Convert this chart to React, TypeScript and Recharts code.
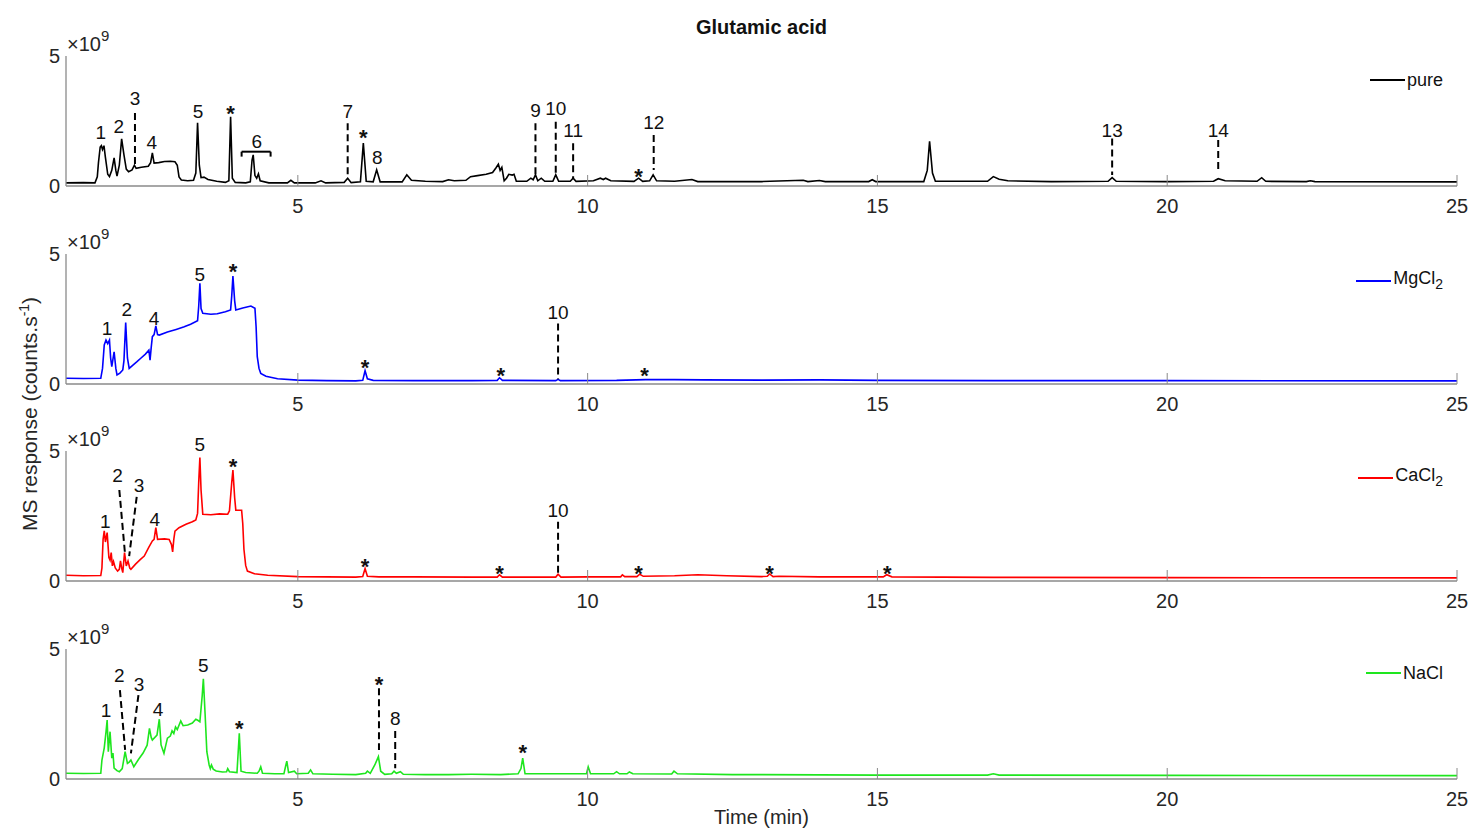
import React from 'react';
import { ComposedChart, Line, XAxis, YAxis, ReferenceLine, ReferenceDot, Legend } from 'recharts';

const FONT = '"Liberation Sans", Arial, Helvetica, sans-serif';
const AXIS = '#8a8a8a';
const INK = '#262626';

const timeTicks = [5, 10, 15, 20, 25];
const responseTicks = [0, 5];

// chromatograms: [time (min), MS response (x1e9 counts/s)]
const pure: [number, number][] = [
  [1.0, 0.12], [1.3, 0.13], [1.5, 0.12], [1.54, 0.35], [1.56, 0.9], [1.59, 1.5], [1.61, 1.55], [1.63, 1.4],
  [1.655, 1.55], [1.68, 1.1], [1.72, 0.45], [1.75, 0.36], [1.79, 0.6], [1.83, 1.08], [1.86, 0.6], [1.88, 0.38],
  [1.92, 0.8], [1.96, 1.81], [2.0, 1.2], [2.04, 0.65], [2.08, 0.55], [2.14, 0.62], [2.18, 0.8], [2.21, 0.68],
  [2.3, 0.72], [2.42, 0.76], [2.46, 0.9], [2.49, 1.27], [2.52, 0.88], [2.6, 0.9], [2.7, 0.94], [2.8, 0.95],
  [2.88, 0.93], [2.92, 0.8], [2.95, 0.35], [2.99, 0.23], [3.1, 0.2], [3.2, 0.22], [3.24, 0.5], [3.27, 2.43],
  [3.3, 0.8], [3.33, 0.32], [3.38, 0.34], [3.45, 0.25], [3.6, 0.18], [3.75, 0.14], [3.81, 0.2], [3.84, 2.66],
  [3.87, 0.3], [3.92, 0.14], [4.1, 0.12], [4.18, 0.16], [4.21, 1.0], [4.23, 1.2], [4.26, 0.4], [4.29, 0.3],
  [4.32, 0.47], [4.35, 0.2], [4.5, 0.12], [4.82, 0.12], [4.88, 0.22], [4.94, 0.12], [5.3, 0.12], [5.4, 0.2],
  [5.48, 0.12], [5.8, 0.14], [5.86, 0.3], [5.92, 0.13], [6.08, 0.16], [6.13, 1.65], [6.18, 0.18], [6.3, 0.16],
  [6.36, 0.62], [6.42, 0.16], [6.8, 0.16], [6.88, 0.43], [6.96, 0.22], [7.2, 0.18], [7.5, 0.17], [7.6, 0.24],
  [7.7, 0.2], [7.9, 0.22], [7.98, 0.36], [8.1, 0.4], [8.25, 0.45], [8.36, 0.52], [8.42, 0.7], [8.46, 0.84],
  [8.49, 0.6], [8.52, 0.72], [8.56, 0.2], [8.6, 0.3], [8.64, 0.45], [8.7, 0.42], [8.73, 0.45], [8.77, 0.18],
  [8.95, 0.18], [9.02, 0.3], [9.06, 0.24], [9.1, 0.43], [9.14, 0.2], [9.2, 0.3], [9.26, 0.18], [9.4, 0.18],
  [9.45, 0.43], [9.5, 0.18], [9.7, 0.18], [9.75, 0.3], [9.8, 0.18], [10.1, 0.2], [10.22, 0.3], [10.27, 0.25],
  [10.31, 0.3], [10.4, 0.2], [10.8, 0.18], [10.88, 0.3], [10.95, 0.18], [11.07, 0.2], [11.13, 0.43], [11.19, 0.2],
  [11.5, 0.18], [11.8, 0.25], [11.9, 0.17], [12.5, 0.17], [13.0, 0.17], [13.72, 0.22], [13.8, 0.17], [14.0, 0.21],
  [14.1, 0.17], [14.85, 0.17], [14.91, 0.24], [14.97, 0.17], [15.8, 0.17], [15.86, 0.6], [15.9, 1.72], [15.95, 0.5],
  [16.0, 0.18], [16.9, 0.18], [17.0, 0.36], [17.1, 0.26], [17.25, 0.2], [18.0, 0.17], [18.98, 0.18], [19.05, 0.32],
  [19.12, 0.18], [20.0, 0.17], [20.8, 0.18], [20.88, 0.28], [21.0, 0.2], [21.55, 0.18], [21.63, 0.32], [21.7, 0.18],
  [22.4, 0.17], [22.47, 0.2], [22.55, 0.17], [25.0, 0.16],
];

const mgcl2: [number, number][] = [
  [1.0, 0.22], [1.3, 0.21], [1.6, 0.22], [1.63, 0.6], [1.66, 1.5], [1.69, 1.69], [1.72, 1.55], [1.75, 1.69],
  [1.77, 1.0], [1.79, 0.67], [1.83, 1.24], [1.86, 0.6], [1.88, 0.35], [1.93, 0.42], [1.98, 0.54], [2.0, 0.9],
  [2.03, 2.36], [2.06, 1.0], [2.09, 0.6], [2.15, 0.72], [2.22, 0.85], [2.29, 0.99], [2.37, 1.15], [2.43, 1.3],
  [2.45, 0.92], [2.47, 1.4], [2.49, 1.82], [2.52, 1.9], [2.55, 2.23], [2.58, 1.9], [2.61, 1.88], [2.75, 2.0],
  [2.9, 2.1], [3.04, 2.2], [3.15, 2.3], [3.27, 2.43], [3.29, 3.0], [3.31, 3.87], [3.33, 2.9], [3.36, 2.72],
  [3.5, 2.68], [3.61, 2.7], [3.75, 2.78], [3.84, 2.85], [3.86, 3.4], [3.88, 4.15], [3.91, 3.2], [3.93, 2.85],
  [4.05, 2.92], [4.19, 3.0], [4.26, 2.91], [4.28, 2.2], [4.3, 1.05], [4.33, 0.6], [4.36, 0.41], [4.45, 0.3],
  [4.65, 0.2], [5.0, 0.15], [5.5, 0.13], [6.0, 0.12], [6.12, 0.14], [6.16, 0.51], [6.2, 0.2], [6.3, 0.14],
  [7.0, 0.13], [8.0, 0.13], [8.44, 0.14], [8.48, 0.24], [8.53, 0.14], [9.45, 0.13], [9.49, 0.18], [9.53, 0.13],
  [10.5, 0.14], [11.0, 0.17], [11.5, 0.17], [12.0, 0.16], [13.0, 0.15], [14.0, 0.16], [15.0, 0.14], [17.0, 0.13],
  [20.0, 0.13], [25.0, 0.12],
];

const cacl2: [number, number][] = [
  [1.0, 0.22], [1.3, 0.2], [1.6, 0.21], [1.62, 0.5], [1.64, 1.6], [1.66, 1.93], [1.68, 1.5], [1.71, 1.86],
  [1.74, 0.9], [1.76, 0.8], [1.78, 1.09], [1.8, 0.58], [1.82, 0.75], [1.85, 0.5], [1.89, 0.38], [1.92, 0.45],
  [1.94, 0.77], [1.96, 0.5], [1.98, 0.32], [2.01, 1.09], [2.04, 0.58], [2.07, 0.77], [2.1, 0.5], [2.12, 0.45],
  [2.2, 0.65], [2.28, 0.82], [2.35, 0.96], [2.43, 1.3], [2.49, 1.54], [2.52, 1.6], [2.55, 2.05], [2.58, 1.6],
  [2.7, 1.62], [2.78, 1.6], [2.82, 1.4], [2.84, 1.12], [2.86, 1.6], [2.88, 1.92], [2.95, 2.05], [3.07, 2.18],
  [3.18, 2.28], [3.24, 2.35], [3.27, 2.6], [3.29, 3.8], [3.31, 4.75], [3.33, 3.5], [3.36, 2.57], [3.5, 2.55],
  [3.65, 2.58], [3.79, 2.57], [3.82, 2.7], [3.86, 3.8], [3.88, 4.27], [3.91, 3.2], [3.93, 2.72], [4.03, 2.72],
  [4.05, 2.2], [4.07, 1.22], [4.1, 0.6], [4.13, 0.38], [4.25, 0.28], [4.48, 0.22], [5.0, 0.17], [5.5, 0.16],
  [6.0, 0.15], [6.12, 0.17], [6.16, 0.48], [6.2, 0.18], [6.4, 0.16], [7.0, 0.16], [8.0, 0.15], [8.44, 0.15],
  [8.48, 0.24], [8.53, 0.15], [9.45, 0.15], [9.49, 0.26], [9.54, 0.15], [10.0, 0.16], [10.57, 0.16], [10.6, 0.24],
  [10.64, 0.17], [10.85, 0.17], [10.9, 0.26], [10.96, 0.18], [11.5, 0.2], [11.9, 0.24], [12.4, 0.2], [13.0, 0.17],
  [13.1, 0.18], [13.14, 0.27], [13.2, 0.17], [13.3, 0.18], [14.0, 0.16], [15.1, 0.16], [15.16, 0.24], [15.25, 0.16],
  [17.0, 0.14], [20.0, 0.13], [25.0, 0.12],
];

const nacl: [number, number][] = [
  [1.0, 0.22], [1.3, 0.21], [1.6, 0.22], [1.62, 0.73], [1.66, 1.2], [1.69, 1.8], [1.71, 2.27], [1.73, 1.05],
  [1.76, 1.82], [1.79, 0.8], [1.81, 1.0], [1.83, 0.42], [1.88, 0.32], [1.92, 0.28], [1.97, 0.4], [2.02, 1.05],
  [2.06, 0.6], [2.09, 0.65], [2.12, 0.73], [2.17, 0.47], [2.25, 0.75], [2.33, 1.0], [2.4, 1.3], [2.44, 1.95],
  [2.47, 1.6], [2.49, 1.5], [2.57, 1.69], [2.61, 2.3], [2.64, 1.31], [2.69, 0.99], [2.75, 1.57], [2.8, 1.65],
  [2.83, 1.85], [2.86, 1.75], [2.89, 2.0], [2.92, 1.9], [2.98, 2.23], [3.02, 2.05], [3.1, 2.08], [3.18, 2.15],
  [3.24, 2.3], [3.28, 2.25], [3.31, 2.2], [3.35, 3.2], [3.37, 3.85], [3.4, 2.5], [3.43, 1.05], [3.47, 0.54],
  [3.49, 0.4], [3.51, 0.54], [3.54, 0.38], [3.59, 0.31], [3.7, 0.27], [3.77, 0.28], [3.79, 0.4], [3.82, 0.28],
  [3.95, 0.25], [3.97, 1.0], [3.99, 1.76], [4.02, 0.3], [4.1, 0.25], [4.3, 0.22], [4.33, 0.3], [4.36, 0.47],
  [4.39, 0.22], [4.6, 0.2], [4.76, 0.2], [4.79, 0.5], [4.81, 0.69], [4.84, 0.25], [4.94, 0.3], [4.98, 0.2],
  [5.18, 0.22], [5.22, 0.35], [5.26, 0.2], [5.6, 0.18], [6.0, 0.17], [6.17, 0.22], [6.2, 0.3], [6.25, 0.22],
  [6.33, 0.55], [6.39, 0.86], [6.43, 0.3], [6.5, 0.18], [6.62, 0.2], [6.66, 0.3], [6.7, 0.22], [6.77, 0.28],
  [6.82, 0.18], [7.2, 0.17], [7.6, 0.17], [8.0, 0.18], [8.5, 0.17], [8.8, 0.2], [8.85, 0.4], [8.88, 0.8],
  [8.92, 0.2], [9.5, 0.2], [9.98, 0.2], [10.01, 0.47], [10.05, 0.2], [10.45, 0.2], [10.5, 0.28], [10.55, 0.2],
  [10.68, 0.2], [10.72, 0.27], [10.78, 0.2], [11.45, 0.19], [11.49, 0.3], [11.55, 0.2], [12.5, 0.17], [14.0, 0.16],
  [15.0, 0.15], [16.9, 0.15], [17.0, 0.2], [17.1, 0.15], [20.0, 0.14], [25.0, 0.13],
];

// peak annotations: [time, response, text]
const pureLabels: [number, number, string][] = [
  [1.6, 2.04, '1'], [1.91, 2.27, '2'], [2.19, 3.35, '3'], [2.48, 1.67, '4'], [3.28, 2.85, '5'], [3.84, 3.02, '*'],
  [4.29, 1.73, '6'], [5.86, 2.85, '7'], [6.13, 2.08, '*'], [6.37, 1.08, '8'], [9.1, 2.92, '9'], [9.45, 2.99, '10'],
  [9.75, 2.15, '11'], [10.88, 0.58, '*'], [11.14, 2.46, '12'], [19.05, 2.15, '13'], [20.88, 2.12, '14'],
];
const mgcl2Labels: [number, number, string][] = [
  [1.71, 2.14, '1'], [2.05, 2.85, '2'], [2.52, 2.53, '4'], [3.31, 4.23, '5'], [3.88, 4.55, '*'], [6.16, 0.88, '*'],
  [8.5, 0.54, '*'], [9.49, 2.75, '10'], [10.98, 0.54, '*'],
];
const cacl2Labels: [number, number, string][] = [
  [1.68, 2.28, '1'], [1.89, 4.04, '2'], [2.26, 3.69, '3'], [2.53, 2.38, '4'], [3.31, 5.25, '5'], [3.88, 4.62, '*'],
  [6.16, 0.78, '*'], [8.48, 0.52, '*'], [9.49, 2.72, '10'], [10.88, 0.52, '*'], [13.14, 0.52, '*'], [15.17, 0.52, '*'],
];
const naclLabels: [number, number, string][] = [
  [1.69, 2.65, '1'], [1.92, 4.0, '2'], [2.26, 3.62, '3'], [2.59, 2.69, '4'], [3.37, 4.35, '5'], [3.99, 2.17, '*'],
  [6.4, 3.85, '*'], [6.68, 2.31, '8'], [8.88, 1.26, '*'],
];

// dashed leader lines: [time1, response1, time2, response2]
const pureLeaders: [number, number, number, number][] = [
  [2.19, 2.81, 2.19, 0.81], [5.86, 2.41, 5.86, 0.36], [9.1, 2.41, 9.1, 0.36], [9.45, 2.47, 9.45, 0.42],
  [9.75, 1.64, 9.75, 0.3], [11.14, 1.96, 11.14, 0.62], [19.05, 1.83, 19.05, 0.42], [20.88, 1.77, 20.88, 0.55],
];
const mgcl2Leaders: [number, number, number, number][] = [[9.49, 2.33, 9.49, 0.18]];
const cacl2Leaders: [number, number, number, number][] = [
  [1.92, 3.5, 2.02, 1.0], [2.22, 3.24, 2.09, 0.96], [9.49, 2.28, 9.49, 0.17],
];
const naclLeaders: [number, number, number, number][] = [
  [1.93, 3.42, 2.02, 1.12], [2.25, 3.23, 2.12, 0.99], [6.4, 3.49, 6.4, 1.12], [6.68, 1.85, 6.68, 0.41],
];

// bracket grouping peak 6 in the pure sample: [from, to, level, foot]
const pureBracket: [number, number, number, number] = [4.03, 4.53, 1.32, 1.13];

const W = 1472;
const PAD_T = 30;
const PLOT_H = 130;
const H = PAD_T + PLOT_H + 30;

function BottomTick(props: any) {
  const { x, y, payload } = props;
  return (
    <g>
      <line x1={x} x2={x} y1={y} y2={y - 11} stroke={AXIS} />
      <text x={x} y={y + 20} textAnchor="middle" dominantBaseline="central" fontSize={20} fill={INK}>
        {payload.value}
      </text>
    </g>
  );
}

function TopTick(props: any) {
  const { x, y } = props;
  return <line x1={x} x2={x} y1={y} y2={y + 11} stroke={AXIS} />;
}

function Exponent(props: any) {
  const vb = props.viewBox;
  if (!vb) return null;
  return (
    <text x={vb.x + vb.width + 1} y={vb.y - 5} fontSize={20} fill={INK}>
      ×10<tspan dy={-10} fontSize={15}>9</tspan>
    </text>
  );
}

function PeakText(props: any) {
  const { cx, cy, text } = props;
  const star = text === '*';
  return (
    <text x={cx} y={star ? cy + 6 : cy} textAnchor="middle" dominantBaseline="central"
      fontSize={star ? 22 : 19} fontWeight={star ? 'bold' : 'normal'} fill="#111">
      {text}
    </text>
  );
}

interface PanelProps {
  top: number;
  trace: [number, number][];
  color: string;
  name: React.ReactNode;
  labels: [number, number, string][];
  leaders: [number, number, number, number][];
  bracket?: [number, number, number, number];
}

function Panel({ top, trace, color, name, labels, leaders, bracket }: PanelProps) {
  const data = trace.map(([t, v]) => ({ t, v }));
  return (
    <div style={{ position: 'absolute', left: 0, top: top - PAD_T, width: W, height: H }}>
      <ComposedChart width={W} height={H} data={data} margin={{ top: PAD_T, right: 15, bottom: 0, left: 36 }}>
        <XAxis dataKey="t" type="number" domain={[1, 25]} ticks={timeTicks} interval={0} allowDataOverflow
          height={30} axisLine={{ stroke: AXIS, strokeWidth: 1.3 }} tickLine={false} tickSize={0} tickMargin={0} tick={BottomTick} />
        <XAxis xAxisId="top" orientation="top" dataKey="t" type="number" domain={[1, 25]} ticks={timeTicks}
          interval={0} allowDataOverflow height={0} axisLine={{ stroke: AXIS, strokeWidth: 1.3 }} tickLine={false} tickSize={0}
          tickMargin={0} tick={TopTick} />
        <YAxis type="number" domain={[0, 5]} ticks={responseTicks} interval={0} allowDataOverflow width={30}
          axisLine={{ stroke: AXIS, strokeWidth: 1.3 }} tickLine={false} tickSize={0} tickMargin={6}
          tick={{ fontSize: 20, fill: INK }} label={Exponent} />
        <YAxis yAxisId="right" orientation="right" type="number" domain={[0, 5]} width={0}
          axisLine={{ stroke: AXIS, strokeWidth: 1.3 }} tickLine={false} tick={false} />
        <Legend layout="vertical" align="center" verticalAlign="middle"
          wrapperStyle={{ top: PAD_T + 13, right: 29, left: 'auto', width: 'auto' }}
          content={() => (
            <div style={{ display: 'flex', alignItems: 'center', fontSize: 18, color: '#111', lineHeight: '22px' }}>
              <div style={{ width: 35, height: 2, background: color, marginRight: 2 }} />
              <span>{name}</span>
            </div>
          )} />
        <Line dataKey="v" type="linear" stroke={color} strokeWidth={1.6} dot={false} activeDot={false}
          isAnimationActive={false} />
        {leaders.map(([x1, y1, x2, y2], i) => (
          <ReferenceLine key={'d' + i} segment={[{ x: x1, y: y1 }, { x: x2, y: y2 }]} stroke="#000"
            strokeWidth={2} strokeDasharray="7 4" ifOverflow="visible" />
        ))}
        {bracket && [
          <ReferenceLine key="b0" segment={[{ x: bracket[0], y: bracket[2] }, { x: bracket[1], y: bracket[2] }]}
            stroke="#000" strokeWidth={2} ifOverflow="visible" />,
          <ReferenceLine key="b1" segment={[{ x: bracket[0], y: bracket[2] }, { x: bracket[0], y: bracket[3] }]}
            stroke="#000" strokeWidth={2} ifOverflow="visible" />,
          <ReferenceLine key="b2" segment={[{ x: bracket[1], y: bracket[2] }, { x: bracket[1], y: bracket[3] }]}
            stroke="#000" strokeWidth={2} ifOverflow="visible" />,
        ]}
        {labels.map(([t, y, text], i) => (
          <ReferenceDot key={'l' + i} x={t} y={y} r={0} ifOverflow="visible"
            shape={(p: any) => <PeakText cx={p.cx} cy={p.cy} text={text} />} />
        ))}
      </ComposedChart>
    </div>
  );
}

export default function App() {
  return (
    <div style={{ position: 'absolute', left: 0, top: 0, width: W, height: 829, background: '#fff', fontFamily: FONT, color: INK }}>
      <div style={{ position: 'absolute', left: 66, width: 1391, top: 16, textAlign: 'center', fontSize: 20, fontWeight: 'bold', lineHeight: '22px', color: '#111' }}>
        Glutamic acid
      </div>
      <Panel top={56} trace={pure} color="#000000" name="pure" labels={pureLabels} leaders={pureLeaders} bracket={pureBracket} />
      <Panel top={254} trace={mgcl2} color="#0000ff" name={<>MgCl<sub style={{ fontSize: 14 }}>2</sub></>} labels={mgcl2Labels} leaders={mgcl2Leaders} />
      <Panel top={451} trace={cacl2} color="#ff0000" name={<>CaCl<sub style={{ fontSize: 14 }}>2</sub></>} labels={cacl2Labels} leaders={cacl2Leaders} />
      <Panel top={649} trace={nacl} color="#1ee61e" name="NaCl" labels={naclLabels} leaders={naclLeaders} />
      <div style={{ position: 'absolute', left: 27, top: 414, transform: 'translate(-50%, -50%) rotate(-90deg)', whiteSpace: 'nowrap', fontSize: 21, lineHeight: '22px' }}>
        MS response (counts.s<sup style={{ fontSize: 14 }}>-1</sup>)
      </div>
      <div style={{ position: 'absolute', left: 66, width: 1391, top: 806, textAlign: 'center', fontSize: 20, lineHeight: '22px' }}>
        Time (min)
      </div>
    </div>
  );
}
